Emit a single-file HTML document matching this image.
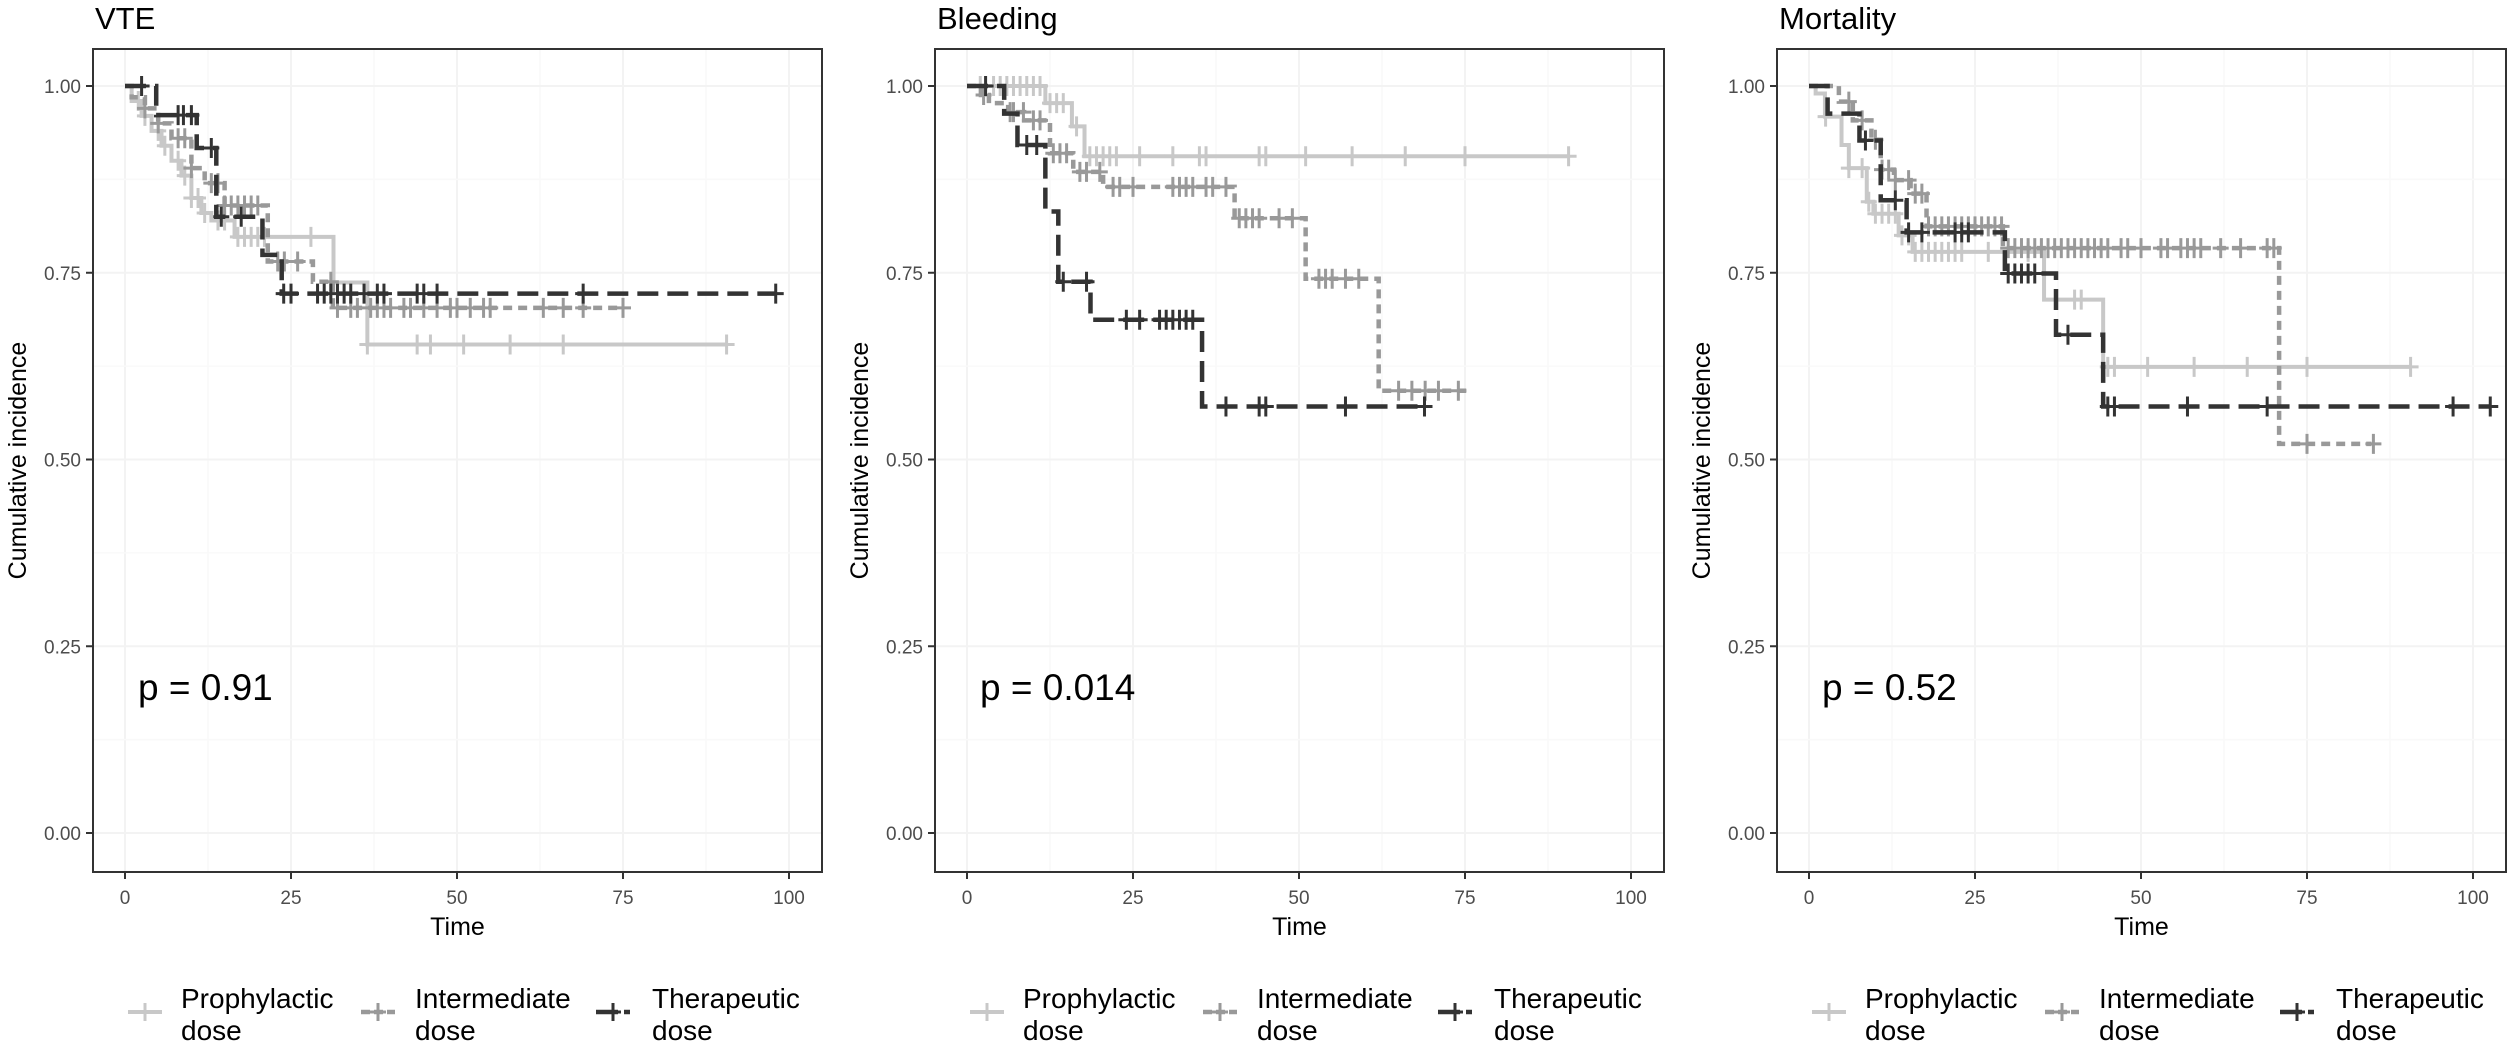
<!DOCTYPE html>
<html><head><meta charset="utf-8"><style>
html,body{margin:0;padding:0;background:#fff;}
svg{display:block;font-family:"Liberation Sans",Arial,sans-serif;}
</style></head><body>
<svg id="chart" width="2508" height="1046" viewBox="0 0 2508 1046" xmlns="http://www.w3.org/2000/svg"></svg>
<script>
// ---- data ----
const panelTitles = ["VTE", "Bleeding", "Mortality"];
const pValues = ["p = 0.91", "p = 0.014", "p = 0.52"];
const xTicks = [0, 25, 50, 75, 100];
const yTicks = [0, 0.25, 0.5, 0.75, 1];
const yTickLabels = ["0.00", "0.25", "0.50", "0.75", "1.00"];
const groupNames = ["Prophylactic", "Intermediate", "Therapeutic"];

// VTE
const vteProphT = [1, 2.5, 4, 5.5, 7, 8.5, 10, 11.5, 13, 16.5, 31.4, 36.5];
const vteProphV = [0.98, 0.96, 0.94, 0.92, 0.90, 0.88, 0.85, 0.83, 0.82, 0.798, 0.737, 0.654];
const vteProphEnd = 90.6;
const vteProphC = [2, 3, 5, 6, 8, 9, 10, 11, 12, 14, 15, 17, 18, 19, 20, 21, 28, 36.5, 44, 46, 51, 58, 66, 90.6];
const vteInterT = [1, 3, 5, 7, 10, 12, 15, 21.5, 28.3, 31.3];
const vteInterV = [0.985, 0.97, 0.95, 0.93, 0.89, 0.87, 0.84, 0.765, 0.738, 0.703];
const vteInterEnd = 75;
const vteInterC = [3, 5, 8, 9, 10, 13, 14, 15, 16, 17, 18, 19, 20, 23, 24, 26, 31, 32, 34, 35, 37, 38, 39, 40, 42, 43, 45, 47, 49, 50, 52, 54, 55, 63, 66, 69, 75];
const vteTherT = [4.7, 10.8, 13.75, 20.7, 23.6];
const vteTherV = [0.961, 0.917, 0.825, 0.774, 0.722];
const vteTherEnd = 98;
const vteTherC = [2.5, 8, 8.8, 10, 13, 14.5, 17.5, 23.9, 25, 29, 30, 31, 32, 33, 34, 36, 38, 39, 44, 45, 47, 69, 98];

// Bleeding
const bleProphT = [11.8, 15.8, 17.7];
const bleProphV = [0.977, 0.946, 0.906];
const bleProphEnd = 90.6;
const bleProphC = [2, 4, 5, 6, 7, 8, 9, 10, 11, 12.5, 13.5, 14.5, 16.5, 18.5, 19.5, 20.5, 21.5, 22.5, 26, 31, 35, 36, 44, 45, 51, 58, 66, 75, 90.6];
const bleInterT = [2.1, 3.3, 6.2, 8.6, 12.5, 16, 20.5, 40.3, 51, 62];
const bleInterV = [0.988, 0.977, 0.965, 0.954, 0.91, 0.885, 0.865, 0.823, 0.742, 0.592];
const bleInterEnd = 75.7;
const bleInterC = [2.5, 6.5, 7, 8.5, 10, 11, 13, 14, 15, 17, 18, 20, 22, 23, 25, 31, 32, 33, 34, 36, 37, 39, 41, 42, 43, 44, 47, 49, 53, 54, 55, 57, 59, 65, 67, 69, 71, 74];
const bleTherT = [5.6, 7.6, 11.8, 13.75, 18.6, 35.4];
const bleTherV = [0.963, 0.921, 0.832, 0.738, 0.687, 0.571];
const bleTherEnd = 68.9;
const bleTherC = [2.8, 9, 10.5, 14.5, 18, 24, 26, 29, 30, 31, 32, 33, 34, 39, 44, 45, 57, 68.9];

// Mortality
const morProphT = [1, 2.4, 4.9, 6, 8.7, 9.7, 13.5, 15.6, 35.4, 44.3];
const morProphV = [0.99, 0.959, 0.921, 0.89, 0.845, 0.829, 0.80, 0.778, 0.714, 0.624];
const morProphEnd = 90.6;
const morProphC = [2.5, 6, 8, 9, 10, 11, 12, 13, 14, 15, 16, 17, 18, 19, 20, 21, 22, 23, 27, 33, 40, 41, 45, 46, 51, 58, 66, 75, 90.6];
const morInterT = [4.5, 6.6, 9.4, 10.8, 12.8, 15.3, 17.7, 29.2, 70.8];
const morInterV = [0.979, 0.954, 0.928, 0.888, 0.874, 0.856, 0.812, 0.783, 0.521];
const morInterEnd = 84.7;
const morInterC = [6, 8, 10, 11, 12, 13, 15, 16, 17, 18, 19, 20, 21, 22, 23, 24, 25, 26, 27, 28, 29, 30, 31, 32, 33, 34, 35, 36, 37, 38, 39, 40, 41, 42, 43, 44, 45, 47, 48, 50, 53, 54, 56, 57, 58, 59, 62, 65, 69, 70, 75, 85];
const morTherT = [2.8, 7.6, 10.8, 14.7, 29.5, 37.2, 44.3];
const morTherV = [0.963, 0.927, 0.847, 0.804, 0.749, 0.667, 0.571];
const morTherEnd = 102.6;
const morTherC = [8.5, 13, 15, 17, 22, 23, 24, 30, 31, 32, 33, 34, 39, 45, 46, 57, 69, 97, 102.6];

// ---- drawing ----
const NS = "http://www.w3.org/2000/svg";
const svg = document.getElementById("chart");
function mk(tag, attrs, parent) {
  const e = document.createElementNS(NS, tag);
  for (const k in attrs) e.setAttribute(k, attrs[k]);
  (parent || svg).appendChild(e);
  return e;
}
const panelsData = [
  [[vteProphT, vteProphV, vteProphEnd, vteProphC], [vteInterT, vteInterV, vteInterEnd, vteInterC], [vteTherT, vteTherV, vteTherEnd, vteTherC]],
  [[bleProphT, bleProphV, bleProphEnd, bleProphC], [bleInterT, bleInterV, bleInterEnd, bleInterC], [bleTherT, bleTherV, bleTherEnd, bleTherC]],
  [[morProphT, morProphV, morProphEnd, morProphC], [morInterT, morInterV, morInterEnd, morInterC], [morTherT, morTherV, morTherEnd, morTherC]]
];
const styles = [
  {color: "#c8c8c8", dash: "none", w: 4},
  {color: "#999999", dash: "9 6", w: 4.5},
  {color: "#333333", dash: "21 9", w: 4.5}
];
const seriesKeys = ["prophylactic", "intermediate", "therapeutic"];
const panelKeys = ["vte", "bleeding", "mortality"];

for (let p = 0; p < 3; p++) {
  const off = 842 * p;
  const L = 93 + off, R = 822 + off, T = 49, B = 872;
  const X = t => 125 + off + t * 6.64;
  const Y = v => 833 - v * 747;
  const g = mk("g", {});
  
  

  // grid
  const grid = mk("g", {}, g);
  
  
  for (let i = 0; i < xTicks.length; i++) {
    mk("line", {x1: X(xTicks[i]), x2: X(xTicks[i]), y1: T, y2: B, stroke: "#f3f3f3", "stroke-width": 2}, grid);
    if (i < xTicks.length - 1) { const m = (xTicks[i] + xTicks[i+1]) / 2; mk("line", {x1: X(m), x2: X(m), y1: T, y2: B, stroke: "#f9f9f9", "stroke-width": 1.5}, grid); }
  }
  for (let i = 0; i < yTicks.length; i++) {
    mk("line", {x1: L, x2: R, y1: Y(yTicks[i]), y2: Y(yTicks[i]), stroke: "#f3f3f3", "stroke-width": 2}, grid);
    if (i < yTicks.length - 1) { const m = (yTicks[i] + yTicks[i+1]) / 2; mk("line", {x1: L, x2: R, y1: Y(m), y2: Y(m), stroke: "#f9f9f9", "stroke-width": 1.5}, grid); }
  }

  // series
  for (let s = 0; s < 3; s++) {
    const [ts, vs, end, cs] = panelsData[p][s];
    const st = styles[s];
    let d = "M" + X(0) + "," + Y(1);
    for (let i = 0; i < ts.length; i++) {
      d += " H" + X(ts[i]) + " V" + Y(vs[i]);
    }
    d += " H" + X(end);
    const path = mk("path", {d: d, fill: "none", stroke: st.color, "stroke-width": st.w, "stroke-dasharray": st.dash}, g);
    
    
    const valAt = t => { let v = 1; for (let i = 0; i < ts.length; i++) if (ts[i] <= t) v = vs[i]; return v; };
    let cd = "";
    for (const c of cs) {
      const cx = X(c), cy = Y(valAt(c));
      cd += "M" + (cx - 8) + "," + cy + " H" + (cx + 8) + " M" + cx + "," + (cy - 10) + " V" + (cy + 10) + " ";
    }
    const cens = mk("path", {d: cd, fill: "none", stroke: st.color, "stroke-width": 3}, g);
    
    
  }

  // border
  const border = mk("rect", {x: L, y: T, width: R - L, height: B - T, fill: "none", stroke: "#333", "stroke-width": 2}, g);
  
  

  // ticks
  for (let i = 0; i < yTicks.length; i++) {
    mk("line", {x1: L - 7, x2: L, y1: Y(yTicks[i]), y2: Y(yTicks[i]), stroke: "#333", "stroke-width": 2}, g);
    const tl = mk("text", {x: L - 12, y: Y(yTicks[i]) + 7, "text-anchor": "end", "font-size": 19, fill: "#4d4d4d"}, g);
    tl.textContent = yTickLabels[i];
    
    
  }
  for (let i = 0; i < xTicks.length; i++) {
    mk("line", {x1: X(xTicks[i]), x2: X(xTicks[i]), y1: B, y2: B + 7, stroke: "#333", "stroke-width": 2}, g);
    const tl = mk("text", {x: X(xTicks[i]), y: B + 32, "text-anchor": "middle", "font-size": 19, fill: "#4d4d4d"}, g);
    tl.textContent = String(xTicks[i]);
    
    
  }

  // titles
  const title = mk("text", {x: L + 2, y: 29, "font-size": 31, fill: "#000"}, g);
  title.textContent = panelTitles[p];
  
  
  const xt = mk("text", {x: (L + R) / 2, y: 935, "text-anchor": "middle", "font-size": 25, fill: "#000"}, g);
  xt.textContent = "Time";
  
  
  const yt = mk("text", {x: 0, y: 0, "text-anchor": "middle", "font-size": 25, fill: "#000", transform: "translate(" + (26 + off) + "," + ((T + B) / 2) + ") rotate(-90)"}, g);
  yt.textContent = "Cumulative incidence";
  
  
  const pv = mk("text", {x: 138 + off, y: 700, "font-size": 37, fill: "#000"}, g);
  pv.textContent = pValues[p];
  
  

  // legend
  const keyX = [128, 361, 596];
  const txtX = [181, 415, 652];
  for (let s = 0; s < 3; s++) {
    const st = styles[s];
    const lg = mk("g", {}, g);
    
    
    const kx = keyX[s] + off, ky = 1012;
    mk("line", {x1: kx, x2: kx + 34, y1: ky, y2: ky, stroke: st.color, "stroke-width": st.w, "stroke-dasharray": st.dash === "none" ? "none" : (s === 1 ? "9 4" : "22 6")}, lg);
    mk("path", {d: "M" + (kx + 9) + "," + ky + " H" + (kx + 25) + " M" + (kx + 17) + "," + (ky - 9) + " V" + (ky + 9), stroke: st.color, "stroke-width": 3, fill: "none"}, lg);
    const t1 = mk("text", {x: txtX[s] + off, y: 1008, "font-size": 28, fill: "#000"}, lg);
    t1.textContent = groupNames[s];
    const t2 = mk("text", {x: txtX[s] + off, y: 1040, "font-size": 28, fill: "#000"}, lg);
    t2.textContent = "dose";
  }
}
</script>
</body></html>
